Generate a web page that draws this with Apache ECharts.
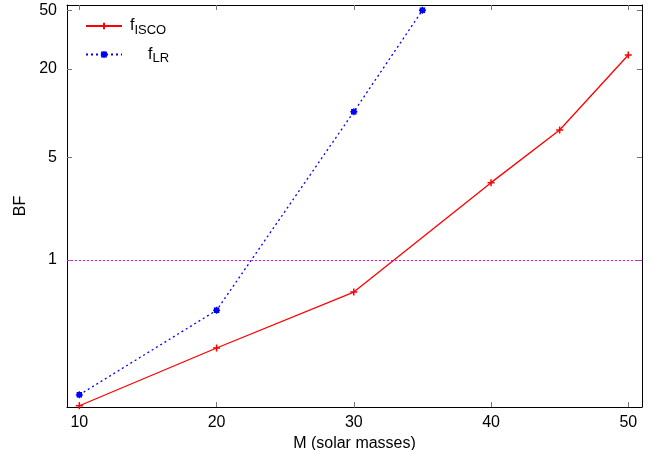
<!DOCTYPE html>
<html>
<head>
<meta charset="utf-8">
<script src="https://cdn.jsdelivr.net/npm/echarts@6/dist/echarts.min.js"></script>
<style>
  html, body { margin: 0; padding: 0; background: #fff; }
  #chart { width: 652px; height: 450px; }
</style>
</head>
<body>
<div id="chart"></div>
<script>
// data
const massIsco = [10, 20, 30, 40, 45, 50];
const bfIsco = [0.102, 0.252, 0.605, 3.36, 7.66, 24.8];
const massLr = [10, 20, 30, 35];
const bfLr = [0.121, 0.455, 10.2, 50];
const xTicks = [10, 20, 30, 40, 50];
const yTicks = [1, 5, 20, 50];

const font = 'Liberation Sans, Arial, sans-serif';
const plusPath = 'path://M0,5L10,5M5,0L5,10';
const starPath = 'path://M0,5L10,5M5,0L5,10M1.5,1.5L8.5,8.5M8.5,1.5L1.5,8.5M2,2L8,2L8,8L2,8Z';

const chart = echarts.init(document.getElementById('chart'));

function zip(xs, ys) {
    return xs.map((x, i) => [x, ys[i]]);
}

const xBase = {
    type: 'value',
    min: 9.1,
    max: 51,
    axisLine: {show: true, onZero: false, lineStyle: {color: '#000', width: 1}},
    axisTick: {show: true, inside: true, length: 5, customValues: xTicks, lineStyle: {color: '#777'}},
    splitLine: {show: false}
};
const yBase = {
    type: 'log',
    min: 0.1,
    max: 54.3,
    axisLine: {show: true, lineStyle: {color: '#000', width: 1}},
    axisTick: {show: true, inside: true, length: 5, customValues: yTicks, lineStyle: {color: '#777'}},
    minorTick: {show: false},
    splitLine: {show: false}
};

const option = {
    animation: false,
    textStyle: {fontFamily: font},
    grid: {left: 67, right: 10, top: 5, bottom: 43, outerBoundsMode: 'none', containLabel: false},
    legend: {
        left: 80,
        top: 13,
        orient: 'vertical',
        itemWidth: 36,
        itemHeight: 8,
        itemGap: 10,
        data: ['isco', 'lr'],
        formatter: function (name) {
            if (name === 'isco') return '{sp1|}{f|f}{s|ISCO}';
            return '{sp2|}{f|f}{s|LR}';
        },
        textStyle: {
            rich: {
                f: {fontSize: 16, fontFamily: font, color: '#000'},
                s: {fontSize: 13, fontFamily: font, color: '#000', padding: [8, 0, 0, 0]},
                sp1: {width: 3},
                sp2: {width: 21}
            }
        }
    },
    xAxis: [
        Object.assign({}, xBase, {
            position: 'bottom',
            name: 'M (solar masses)',
            nameLocation: 'middle',
            nameGap: 22,
            nameTextStyle: {fontSize: 16, color: '#000', fontFamily: font},
            axisLabel: {customValues: xTicks, fontSize: 16, color: '#000', margin: 8, fontFamily: font}
        }),
        Object.assign({}, xBase, {position: 'top', axisLabel: {show: false}})
    ],
    yAxis: [
        Object.assign({}, yBase, {
            position: 'left',
            name: 'BF',
            nameLocation: 'middle',
            nameGap: 38,
            nameRotate: 90,
            nameTextStyle: {fontSize: 16, color: '#000', fontFamily: font},
            axisLabel: {customValues: yTicks, fontSize: 16, color: '#000', margin: 10, fontFamily: font}
        }),
        Object.assign({}, yBase, {position: 'right', axisLabel: {show: false}})
    ],
    series: [
        {
            name: 'isco',
            type: 'line',
            data: zip(massIsco, bfIsco),
            symbol: plusPath,
            symbolSize: 7,
            showAllSymbol: true,
            lineStyle: {color: '#ff0000', width: 1.3},
            itemStyle: {color: '#ff0000', borderColor: '#ff0000', borderWidth: 1.5},
            markLine: {
                silent: true,
                symbol: 'none',
                label: {show: false},
                lineStyle: {color: '#ff00ff', type: [2, 2], width: 1},
                data: [{yAxis: 1}]
            }
        },
        {
            name: 'lr',
            type: 'line',
            data: zip(massLr, bfLr),
            symbol: starPath,
            symbolSize: 7,
            showAllSymbol: true,
            lineStyle: {color: '#0000ff', width: 1.3, type: [2, 3]},
            itemStyle: {color: '#0000ff', borderColor: '#0000ff', borderWidth: 1.3}
        }
    ]
};

chart.setOption(option);
</script>
</body>
</html>
